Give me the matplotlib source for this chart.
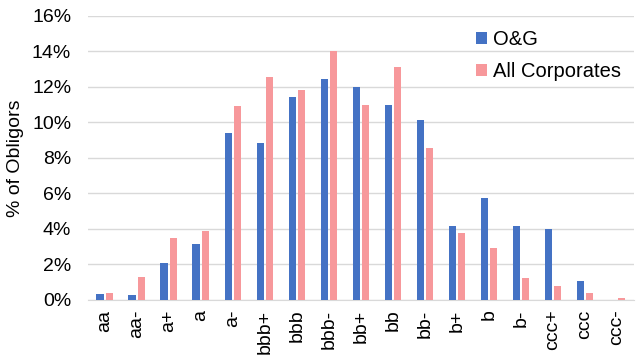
import matplotlib.pyplot as plt
import numpy as np
from matplotlib.ticker import FuncFormatter

plt.rcParams['font.family'] = ['Liberation Sans', 'DejaVu Sans']

# Ratings and share of obligors (%)
ratings = ['aa', 'aa-', 'a+', 'a', 'a-', 'bbb+', 'bbb', 'bbb-', 'bb+', 'bb',
           'bb-', 'b+', 'b', 'b-', 'ccc+', 'ccc', 'ccc-']
og = [0.32, 0.30, 2.09, 3.12, 9.40, 8.83, 11.45, 12.47, 12.02, 10.98,
      10.13, 4.14, 5.72, 4.14, 3.97, 1.06, 0.0]
all_corp = [0.41, 1.26, 3.50, 3.86, 10.90, 12.56, 11.83, 14.03, 10.96, 13.10,
            8.55, 3.79, 2.94, 1.24, 0.79, 0.41, 0.11]

blue = '#4472C4'
pink = '#F7989B'

fig = plt.figure(figsize=(6.41, 3.63), dpi=100)
ax = fig.add_axes([0.137, 0.174, 0.852, 0.782])

x = np.arange(len(ratings))
w = 0.23
ax.bar(x - 0.145, og, width=w, color=blue, label='O&G', zorder=3)
ax.bar(x + 0.145, all_corp, width=w, color=pink, label='All Corporates', zorder=3)

ax.set_ylim(0, 16)
ax.set_yticks(range(0, 17, 2))
ax.yaxis.set_major_formatter(FuncFormatter(lambda v, p: f'{v:.0f}%'))
ax.set_xlim(-0.53, len(ratings) - 0.47)
ax.set_xticks(x)
ax.set_xticklabels(ratings, rotation=90)
ax.tick_params(axis='both', length=0, labelsize=14)
ax.tick_params(axis='y', pad=12)
ax.tick_params(axis='x', pad=7)
ax.grid(axis='y', color='#D9D9D9', linewidth=1, zorder=0)
for s in ['left', 'right', 'top']:
    ax.spines[s].set_visible(False)
ax.spines['bottom'].set_color('#D9D9D9')
ax.set_ylabel('% of Obligors', fontsize=14, labelpad=6)

fig.legend(loc='upper left', bbox_to_anchor=(476 / 641, 1 - 30 / 363),
           frameon=False, fontsize=14.5, handlelength=0.55, handleheight=0.55,
           handletextpad=0.3, labelspacing=0.65, borderpad=0, borderaxespad=0)

plt.savefig('out.png', dpi=100)
